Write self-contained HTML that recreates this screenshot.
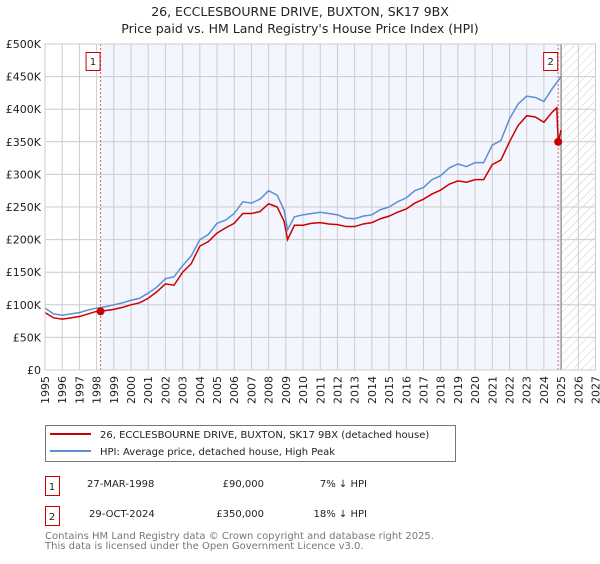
<!DOCTYPE html>
<html><head><meta charset="utf-8"><style>
body{margin:0;background:#fff;font-family:"DejaVu Sans","Liberation Sans",sans-serif;}
svg text{font-family:"DejaVu Sans","Liberation Sans",sans-serif;}
</style></head><body>
<svg id="c" width="600" height="560" xmlns="http://www.w3.org/2000/svg">
<defs><pattern id="h" width="6" height="6" patternUnits="userSpaceOnUse" patternTransform="rotate(45)"><line x1="0" y1="0" x2="0" y2="6" stroke="#ccc" stroke-width="1"/></pattern></defs>
<text x="300" y="16" text-anchor="middle" font-size="12.5" fill="#222">26, ECCLESBOURNE DRIVE, BUXTON, SK17 9BX</text>
<text x="300" y="33" text-anchor="middle" font-size="12.5" fill="#222">Price paid vs. HM Land Registry's House Price Index (HPI)</text>
<g id="plot"></g>
<g>
<rect x="45.5" y="425.5" width="410" height="36" fill="#fff" stroke="#777"/>
<line x1="50" y1="434" x2="91" y2="434" stroke="#cc0000" stroke-width="2"/>
<text x="100" y="438" font-size="10" fill="#222">26, ECCLESBOURNE DRIVE, BUXTON, SK17 9BX (detached house)</text>
<line x1="50" y1="451" x2="91" y2="451" stroke="#5b8fd4" stroke-width="2"/>
<text x="100" y="455" font-size="10" fill="#222">HPI: Average price, detached house, High Peak</text>
</g>
<g font-size="10" fill="#222">
<rect x="45.5" y="476.5" width="14" height="19" fill="#fff" stroke="#cc0000"/>
<text x="52" y="490" text-anchor="middle">1</text>
<text x="87" y="487">27-MAR-1998</text>
<text x="264" y="487" text-anchor="end">£90,000</text>
<text x="367" y="487" text-anchor="end">7% ↓ HPI</text>
<rect x="45.5" y="506.5" width="14" height="19" fill="#fff" stroke="#cc0000"/>
<text x="52" y="520" text-anchor="middle">2</text>
<text x="89" y="517">29-OCT-2024</text>
<text x="264" y="517" text-anchor="end">£350,000</text>
<text x="367" y="517" text-anchor="end">18% ↓ HPI</text>
</g>
<text x="45" y="539" font-size="10" fill="#777">Contains HM Land Registry data © Crown copyright and database right 2025.</text>
<text x="45" y="549" font-size="10" fill="#777">This data is licensed under the Open Government Licence v3.0.</text>
</svg>
<script>
const hpiYears=[1995,1995.5,1996,1996.5,1997,1997.5,1998,1998.5,1999,1999.5,2000,2000.5,2001,2001.5,2002,2002.5,2003,2003.5,2004,2004.5,2005,2005.5,2006,2006.5,2007,2007.5,2008,2008.5,2008.9,2009.1,2009.5,2010,2010.5,2011,2011.5,2012,2012.5,2013,2013.5,2014,2014.5,2015,2015.5,2016,2016.5,2017,2017.5,2018,2018.5,2019,2019.5,2020,2020.5,2021,2021.5,2022,2022.5,2023,2023.5,2024,2024.5,2025];
const hpiValues=[95,86,84,86,88,92,95,97,100,103,107,110,118,127,140,143,160,175,200,208,225,230,240,258,256,262,275,268,245,215,235,238,240,242,240,238,233,232,236,238,246,250,258,264,275,280,292,298,310,316,312,318,318,345,352,385,408,420,418,412,432,450];
const ppYears=[1995,1995.5,1996,1996.5,1997,1997.5,1998,1998.5,1999,1999.5,2000,2000.5,2001,2001.5,2002,2002.5,2003,2003.5,2004,2004.5,2005,2005.5,2006,2006.5,2007,2007.5,2008,2008.5,2008.9,2009.1,2009.5,2010,2010.5,2011,2011.5,2012,2012.5,2013,2013.5,2014,2014.5,2015,2015.5,2016,2016.5,2017,2017.5,2018,2018.5,2019,2019.5,2020,2020.5,2021,2021.5,2022,2022.5,2023,2023.5,2024,2024.5,2024.75,2024.83,2025];
const ppValues=[88,80,78,80,82,86,90,91,93,96,100,103,110,120,132,130,150,163,190,197,210,218,225,240,240,243,255,250,228,200,222,222,225,226,224,223,220,220,224,226,232,236,242,247,256,262,270,276,285,290,288,292,292,315,322,350,375,390,388,380,396,402,350,368];
const sales=[{n:'1',year:1998.23,value:90},{n:'2',year:2024.83,value:350}];
const yTicks=[0,50,100,150,200,250,300,350,400,450,500];
const yTickLabels=['£0','£50K','£100K','£150K','£200K','£250K','£300K','£350K','£400K','£450K','£500K'];
const xTicks=[1995,1996,1997,1998,1999,2000,2001,2002,2003,2004,2005,2006,2007,2008,2009,2010,2011,2012,2013,2014,2015,2016,2017,2018,2019,2020,2021,2022,2023,2024,2025,2026,2027];

const NS='http://www.w3.org/2000/svg';
const X0=45,X1=595.5,Y0=370,Y1=44;
const xs=y=>X0+(y-1995)/(2027-1995)*(X1-X0);
const ys=v=>Y0-(v/500)*(Y0-Y1);
const g=document.getElementById('plot');
function mk(t,a){const e=document.createElementNS(NS,t);for(const k in a)e.setAttribute(k,a[k]);g.appendChild(e);return e;}
let e;
e=mk('rect',{x:X0,y:Y1,width:X1-X0,height:Y0-Y1,fill:'#fff'});


e=mk('rect',{x:xs(sales[0].year),y:Y1,width:xs(2025)-xs(sales[0].year),height:Y0-Y1,fill:'#f3f6fe'});


e=mk('rect',{x:xs(2025),y:Y1,width:X1-xs(2025),height:Y0-Y1,fill:'url(#h)'});


xTicks.forEach(t=>{
 e=mk('line',{x1:xs(t),x2:xs(t),y1:Y1,y2:Y0,stroke:'#ccc','stroke-width':1});
 
 
 e=mk('text',{x:0,y:0,'font-size':11,fill:'#222','text-anchor':'end',transform:`translate(${xs(t)+4},${Y0+6}) rotate(-90)`});
 e.textContent=t;
 
 
});
yTicks.forEach((t,i)=>{
 e=mk('line',{x1:X0,x2:X1,y1:ys(t),y2:ys(t),stroke:'#ccc','stroke-width':1});
 
 
 e=mk('text',{x:X0-4,y:ys(t)+4,'font-size':11,fill:'#222','text-anchor':'end'});
 e.textContent=yTickLabels[i];
 
 
});
e=mk('line',{x1:xs(2025),x2:xs(2025),y1:Y1,y2:Y0,stroke:'#999','stroke-width':1.5});


sales.forEach(s=>{
 e=mk('line',{x1:xs(s.year),x2:xs(s.year),y1:Y1,y2:Y0,stroke:'#e06060','stroke-width':1,'stroke-dasharray':'2,2'});
 
 
});
e=mk('polyline',{points:hpiYears.map((y,i)=>xs(y)+','+ys(hpiValues[i])).join(' '),fill:'none',stroke:'#5b8fd4','stroke-width':1.5});


e=mk('polyline',{points:ppYears.map((y,i)=>xs(y)+','+ys(ppValues[i])).join(' '),fill:'none',stroke:'#cc0000','stroke-width':1.5});


sales.forEach(s=>{
 e=mk('circle',{cx:xs(s.year),cy:ys(s.value),r:4,fill:'#cc0000'});
 
 
 e=mk('rect',{x:xs(s.year)-14.5,y:52.5,width:14,height:18,fill:'#fff',stroke:'#cc0000'});
 
 
 e=mk('text',{x:xs(s.year)-7.5,y:65,'font-size':10,'text-anchor':'middle',fill:'#222'});
 e.textContent=s.n;
 
 
});
e=mk('rect',{x:X0,y:Y1,width:X1-X0,height:Y0-Y1,fill:'none',stroke:'#ccc'});


</script>
</body></html>
